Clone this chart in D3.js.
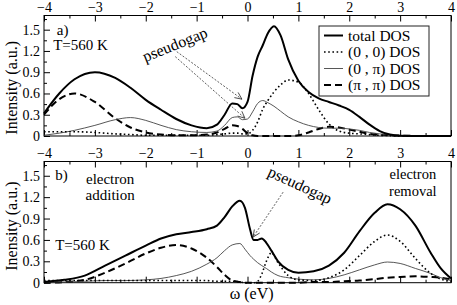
<!DOCTYPE html>
<html>
<head>
<meta charset="utf-8">
<script src="https://cdn.jsdelivr.net/npm/d3@7"></script>
<style>
  body { margin: 0; background: #fff; }
  svg, svg text { font-family: "Liberation Serif", "Times New Roman", "DejaVu Serif", serif !important; fill: #000; }
</style>
</head>
<body>
<div id="chart"></div>
<script>
// omega grid, top panel (a)
var omegaA = [-4, -3.7, -3.4, -3, -2.6, -2.3, -2, -1.7, -1.4, -1.1, -0.8, -0.6, -0.45, -0.3, -0.2, -0.1, 0, 0.1, 0.2, 0.3, 0.4, 0.52, 0.65, 0.8, 1, 1.2, 1.4, 1.6, 1.8, 2, 2.2, 2.4, 2.6, 2.8, 3, 3.5, 4];
var totalA = [0.32, 0.60, 0.80, 0.90, 0.82, 0.68, 0.51, 0.37, 0.24, 0.15, 0.11, 0.16, 0.30, 0.46, 0.45, 0.39, 0.48, 0.85, 1.12, 1.28, 1.45, 1.55, 1.42, 1.08, 0.78, 0.62, 0.53, 0.48, 0.43, 0.37, 0.27, 0.16, 0.07, 0.02, 0.005, 0, 0];
var dos00A = [0.06, 0.06, 0.06, 0.05, 0.03, 0.02, 0.01, 0.01, 0.01, 0.01, 0.01, 0.02, 0.03, 0.04, 0.04, 0.03, 0.03, 0.08, 0.2, 0.38, 0.5, 0.62, 0.72, 0.79, 0.76, 0.6, 0.37, 0.17, 0.07, 0.04, 0.03, 0.02, 0.01, 0.005, 0, 0, 0];
var dos0piA = [0.01, 0.04, 0.08, 0.15, 0.23, 0.26, 0.22, 0.15, 0.09, 0.06, 0.05, 0.07, 0.15, 0.26, 0.27, 0.23, 0.24, 0.34, 0.46, 0.5, 0.47, 0.42, 0.35, 0.27, 0.2, 0.15, 0.12, 0.11, 0.11, 0.1, 0.08, 0.05, 0.03, 0.01, 0.005, 0, 0];
var dospipiA = [0.30, 0.52, 0.60, 0.48, 0.25, 0.12, 0.05, 0.02, 0.01, 0.01, 0.02, 0.05, 0.1, 0.15, 0.14, 0.1, 0.04, 0.01, 0, 0, 0, 0, 0, 0, 0.01, 0.05, 0.1, 0.13, 0.12, 0.09, 0.06, 0.03, 0.02, 0.01, 0.005, 0, 0];

// omega grid, bottom panel (b)
var omegaB = [-4, -3.6, -3.2, -2.8, -2.4, -2, -1.7, -1.4, -1.1, -0.8, -0.6, -0.45, -0.3, -0.15, -0.05, 0.05, 0.12, 0.2, 0.28, 0.37, 0.47, 0.6, 0.8, 1, 1.3, 1.6, 1.9, 2.2, 2.5, 2.75, 3, 3.3, 3.6, 3.8, 4];
var totalB = [0.01, 0.04, 0.1, 0.24, 0.38, 0.52, 0.62, 0.68, 0.71, 0.75, 0.8, 0.92, 1.07, 1.15, 1.05, 0.75, 0.6, 0.6, 0.62, 0.56, 0.45, 0.3, 0.18, 0.14, 0.16, 0.24, 0.42, 0.72, 0.98, 1.1, 1.03, 0.8, 0.42, 0.2, 0.06];
var dos00B = [0.03, 0.03, 0.03, 0.03, 0.03, 0.03, 0.03, 0.03, 0.03, 0.03, 0.02, 0.02, 0.02, 0.01, 0, 0, 0, 0.02, 0.12, 0.3, 0.42, 0.28, 0.1, 0.04, 0.03, 0.07, 0.18, 0.38, 0.58, 0.67, 0.58, 0.34, 0.13, 0.05, 0.02];
var dos0piB = [0.01, 0.01, 0.02, 0.03, 0.03, 0.04, 0.06, 0.1, 0.16, 0.26, 0.35, 0.45, 0.53, 0.55, 0.47, 0.38, 0.33, 0.28, 0.24, 0.2, 0.15, 0.1, 0.07, 0.05, 0.04, 0.06, 0.11, 0.18, 0.25, 0.29, 0.27, 0.2, 0.13, 0.07, 0.03];
var dospipiB = [0, 0.01, 0.04, 0.14, 0.27, 0.41, 0.49, 0.53, 0.48, 0.35, 0.22, 0.11, 0.03, 0.01, 0, 0, 0, 0, 0, 0, 0, 0, 0, 0, 0.01, 0.01, 0.02, 0.03, 0.05, 0.07, 0.08, 0.09, 0.08, 0.07, 0.05];

var xTicks = [-4, -3, -2, -1, 0, 1, 2, 3, 4];
var xMinor = [-3.5, -2.5, -1.5, -0.5, 0.5, 1.5, 2.5, 3.5];
var yTicks = [0, 0.3, 0.6, 0.9, 1.2, 1.5];
var yMinor = [0.15, 0.45, 0.75, 1.05, 1.35, 1.65];
var legendLabels = ["total DOS", "(0 , 0) DOS", "(0 , \u03c0) DOS", "(\u03c0 , \u03c0) DOS"];

var width = 457, height = 305;
var serif = "'Liberation Serif', 'Times New Roman', 'DejaVu Serif', serif";

var svg = d3.select("#chart")
    .append("svg")
    .attr("width", width)
    .attr("height", height)
    .attr("font-family", serif);

// arrow head
svg.append("defs").append("marker")
    .attr("id", "head")
    .attr("viewBox", "-8 -5 10 10")
    .attr("markerWidth", 10)
    .attr("markerHeight", 10)
    .attr("markerUnits", "userSpaceOnUse")
    .attr("orient", "auto")
    .append("path")
    .attr("d", "M-7,-3.2L0,0L-7,3.2")
    .attr("fill", "none")
    .attr("stroke", "#333")
    .attr("stroke-width", 0.8);

var xScale = d3.scaleLinear().domain([-4, 4]).range([44, 451]);

// series styles, same order as the legend
var styles = [
    { stroke: "#000", width: 2, dash: null },
    { stroke: "#000", width: 1.6, dash: "1.6,2.6" },
    { stroke: "#444", width: 0.9, dash: null },
    { stroke: "#000", width: 2, dash: "7,4" }
];

function drawPanel(top, bottom, omega, series, opts) {
    var yScale = d3.scaleLinear().domain([0, 1.7]).range([bottom, top]);

    // top axis
    var gTop = svg.append("g").attr("transform", "translate(0," + top + ")");
    gTop.call(d3.axisTop(xScale).tickValues(xTicks).tickSize(-6).tickPadding(opts.topPad)
        .tickFormat(d3.format("d")));
    gTop.append("g").call(d3.axisTop(xScale).tickValues(xMinor).tickSize(-3).tickFormat(""));

    // bottom axis (ticks only)
    var gBot = svg.append("g").attr("transform", "translate(0," + bottom + ")");
    gBot.call(d3.axisBottom(xScale).tickValues(xTicks).tickSize(-6).tickFormat(""));
    gBot.append("g").call(d3.axisBottom(xScale).tickValues(xMinor).tickSize(-3).tickFormat(""));

    // left axis
    var gLeft = svg.append("g").attr("transform", "translate(44,0)");
    gLeft.call(d3.axisLeft(yScale).tickValues(yTicks).tickSize(-6).tickPadding(4)
        .tickFormat(function (d) { return d === 0 ? "0" : d3.format(".1f")(d); }));
    gLeft.append("g").call(d3.axisLeft(yScale).tickValues(yMinor).tickSize(-3).tickFormat(""));

    svg.selectAll("g").attr("font-family", serif);
    svg.selectAll(".domain").remove();
    svg.selectAll(".tick line").attr("stroke", "#000").attr("stroke-width", 1);
    svg.selectAll(".tick text")
        .style("font-family", serif)
        .style("font-size", "14px")
        .attr("fill", "#000");

    // frame
    svg.append("rect")
        .attr("x", 44).attr("y", top)
        .attr("width", 451 - 44).attr("height", bottom - top)
        .attr("fill", "none")
        .attr("stroke", "#000")
        .attr("stroke-width", 1);

    var line = d3.line()
        .x(function (d) { return xScale(d[0]); })
        .y(function (d) { return yScale(d[1]); })
        .curve(d3.curveMonotoneX);

    // draw back to front: dashed, thin, dotted, total
    [3, 2, 1, 0].forEach(function (k) {
        var pts = omega.map(function (w, i) { return [w, series[k][i]]; });
        svg.append("path")
            .datum(pts)
            .attr("d", line)
            .attr("fill", "none")
            .attr("stroke", styles[k].stroke)
            .attr("stroke-width", styles[k].width)
            .attr("stroke-dasharray", styles[k].dash);
    });

    // y label
    svg.append("text")
        .attr("transform", "translate(17," + ((top + bottom) / 2 + opts.labelShift) + ") rotate(-90)")
        .attr("text-anchor", "middle")
        .style("font-size", "16px")
        .text(opts.yLabel);

    return yScale;
}

// panel a
var yA = drawPanel(15.5, 136, omegaA, [totalA, dos00A, dos0piA, dospipiA],
    { topPad: 4, yLabel: "Intensity (a.u.)", labelShift: 12 });

// panel b (its top labels sit in the gap between panels)
var yB = drawPanel(161.5, 282.7, omegaB, [totalB, dos00B, dos0piB, dospipiB],
    { topPad: 4, yLabel: "Inensity (a.u.)", labelShift: 4 });

// legend
var legend = svg.append("g").attr("transform", "translate(319,26)");
legend.append("rect")
    .attr("width", 110).attr("height", 70)
    .attr("fill", "#fff")
    .attr("stroke", "#222")
    .attr("stroke-width", 1);

var item = legend.selectAll(".legend")
    .data(legendLabels)
    .enter()
    .append("g")
    .attr("class", "legend")
    .attr("transform", function (d, i) { return "translate(0," + (9.5 + i * 16.5) + ")"; });

item.append("line")
    .attr("x1", 5).attr("x2", 24)
    .attr("stroke", function (d, i) { return styles[i].stroke; })
    .attr("stroke-width", function (d, i) { return styles[i].width; })
    .attr("stroke-dasharray", function (d, i) { return styles[i].dash; });

item.append("text")
    .attr("x", 29)
    .attr("y", 5)
    .style("font-size", "15.5px")
    .text(function (d) { return d; });

// panel texts
function label(txt, xv, yv, ys, size, anchor, rot) {
    var t = svg.append("text")
        .attr("text-anchor", anchor || "start")
        .style("font-size", size + "px")
        .text(txt);
    var px = xScale(xv), py = ys(yv);
    t.attr("transform", "translate(" + px + "," + py + ")" + (rot ? " rotate(" + rot + ")" : ""));
    return t;
}

label("a)", -3.75, 1.43, yA, 15);
label("T=560 K", -3.82, 1.21, yA, 15);
label("pseudogap", -1.385, 1.22, yA, 16, "middle", -22);

label("b)", -3.78, 1.44, yB, 15);
label("electron", -2.7, 1.38, yB, 15, "middle");
label("addition", -2.7, 1.16, yB, 15, "middle");
label("T=560 K", -3.78, 0.46, yB, 15);
label("pseudogap", 0.99, 1.30, yB, 16, "middle", 25);
label("electron", 3.25, 1.45, yB, 14.5, "middle");
label("removal", 3.25, 1.22, yB, 14.5, "middle");

// x label
svg.append("text")
    .attr("x", xScale(-0.35))
    .attr("y", 299)
    .style("font-size", "16px")
    .text("\u03c9  (eV)");

// pseudogap arrows (data coordinates)
var arrowsA = [[-1.39, 1.19, -0.11, 0.52], [-1.42, 1.12, -0.05, 0.25]];
var arrowsB = [[0.7, 1.27, 0.11, 0.64]];

function arrows(list, ys) {
    list.forEach(function (a) {
        svg.append("line")
            .attr("x1", xScale(a[0])).attr("y1", ys(a[1]))
            .attr("x2", xScale(a[2])).attr("y2", ys(a[3]))
            .attr("stroke", "#333")
            .attr("stroke-width", 0.8)
            .attr("stroke-dasharray", "2,1.6")
            .attr("marker-end", "url(#head)");
    });
}
arrows(arrowsA, yA);
arrows(arrowsB, yB);
</script>
</body>
</html>
